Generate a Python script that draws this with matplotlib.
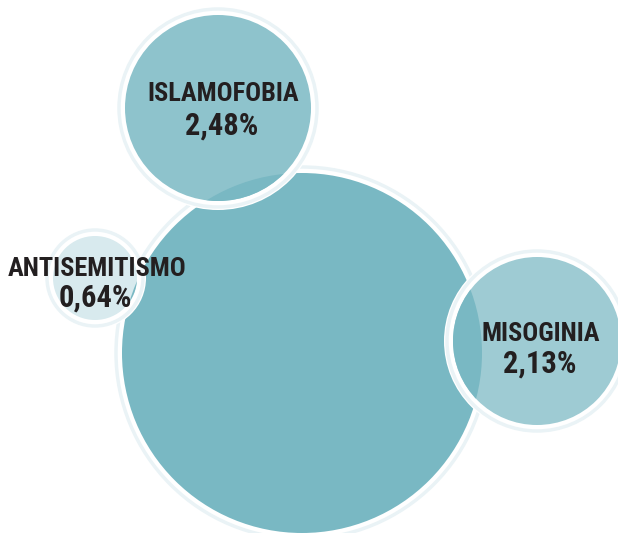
import matplotlib.pyplot as plt
from matplotlib.patches import Circle

# data
labels = ['ISLAMOFOBIA', 'ANTISEMITISMO', 'MISOGINIA']
values = ['2,48%', '0,64%', '2,13%']

# layout (pixels, y down)
big_xy, big_r = (302, 353), 180
centers = [(218, 108), (95, 278), (537, 341)]
radii = [93, 42, 84]
colors = ['#8ec3cc', '#d8eaee', '#9ecbd3']
label_xy = [(223, 101), (97, 276), (541, 341)]
value_xy = [(222, 135), (95, 307), (540, 373)]

big_color = '#79b8c3'
ring_color = '#eaf3f6'
txt_color = '#231f20'
font = ['Roboto Condensed', 'DejaVu Sans']

fig = plt.figure(figsize=(6.18, 5.33), dpi=100)
ax = fig.add_axes([0, 0, 1, 1])
ax.set_xlim(0, 618)
ax.set_ylim(533, 0)
ax.set_aspect('equal')
ax.axis('off')

# big bubble
ax.add_patch(Circle(big_xy, big_r + 6, fc='none', ec=ring_color, lw=2.5, zorder=1))
ax.add_patch(Circle(big_xy, big_r, fc=big_color, ec='none', zorder=1))

for i in range(len(labels)):
    cx, cy = centers[i]
    r = radii[i]
    z = 2 + i
    ax.add_patch(Circle((cx, cy), r + 9, fc='white', ec='none', zorder=z))
    ax.add_patch(Circle((cx, cy), r + 6, fc='none', ec=ring_color, lw=2.5, zorder=z))
    fill = Circle((cx, cy), r, fc=colors[i], ec='none', zorder=z)
    ax.add_patch(fill)
    # the big bubble shows through where they overlap
    over = Circle(big_xy, big_r, fc=big_color, ec='none', zorder=z)
    ax.add_patch(over)
    over.set_clip_path(fill)
    ax.text(*label_xy[i], labels[i], ha='center', va='baseline', fontsize=19,
            fontweight='bold', family=font, color=txt_color, zorder=10)
    ax.text(*value_xy[i], values[i], ha='center', va='baseline', fontsize=22,
            fontweight='bold', family=font, color=txt_color, zorder=10)

fig.savefig('out.png', dpi=100)
